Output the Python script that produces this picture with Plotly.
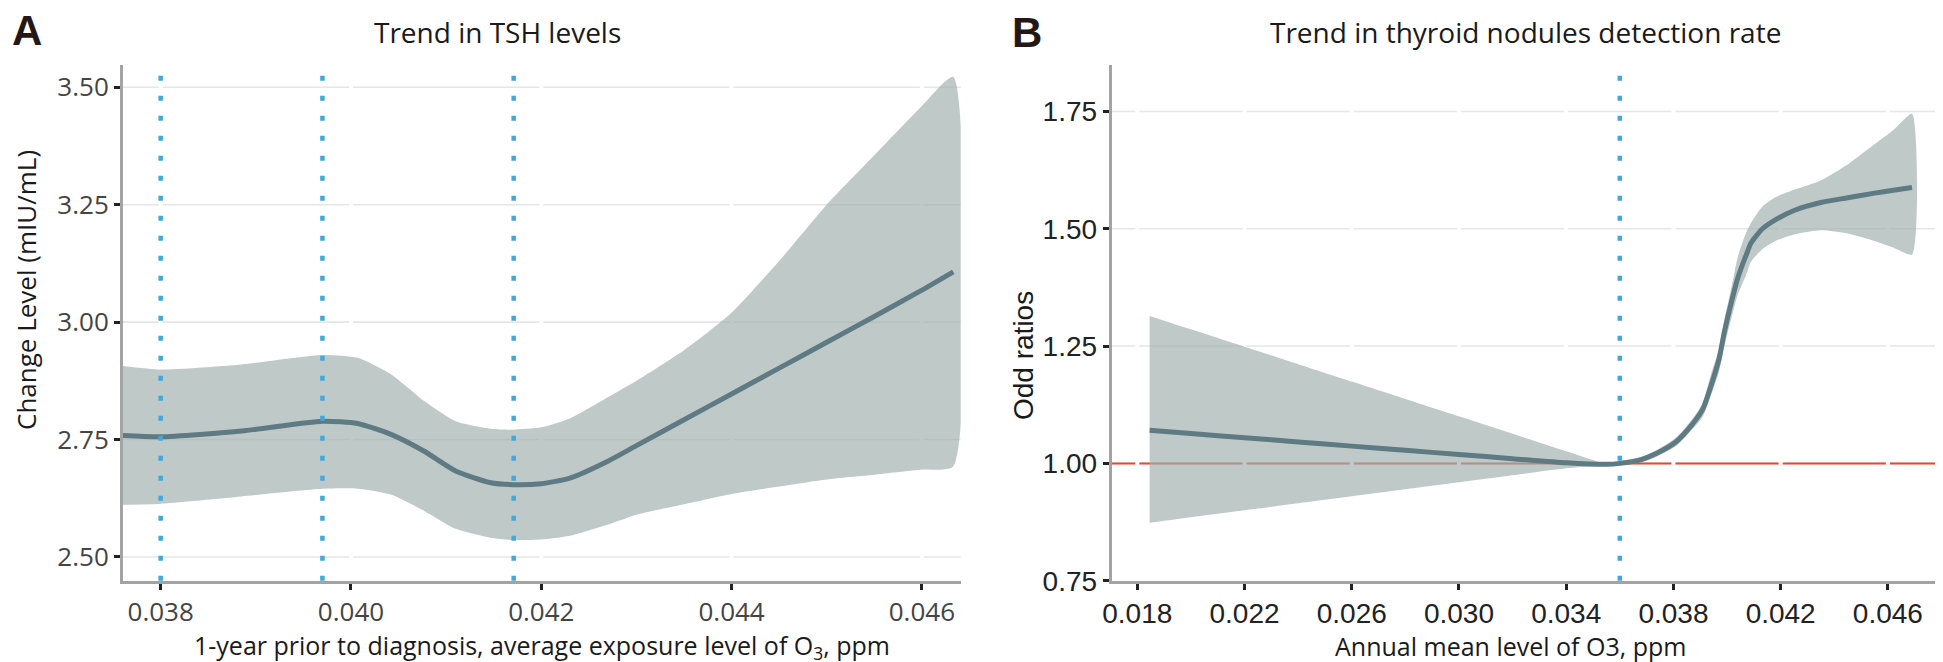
import plotly.graph_objects as go

W, H = 1943, 662

# ---------------- Panel A data: TSH trend ----------------
a_x = [0.0376, 0.0380, 0.03885, 0.0397, 0.04007, 0.04042, 0.04077, 0.0411, 0.04147, 0.0417,
       0.0420, 0.0423, 0.0427, 0.0430, 0.0435, 0.0440, 0.0445, 0.0450, 0.0455, 0.0460, 0.04633]
a_fit = [2.7585, 2.7558, 2.768, 2.789, 2.784, 2.761, 2.725, 2.683, 2.658, 2.654,
         2.656, 2.668, 2.704, 2.737, 2.792, 2.847, 2.902, 2.957, 3.012, 3.068, 3.107]
a_upper = [2.9065, 2.899, 2.910, 2.930, 2.924, 2.889, 2.832, 2.789, 2.773, 2.771,
           2.776, 2.795, 2.840, 2.875, 2.940, 3.020, 3.130, 3.250, 3.355, 3.460, 3.522]
a_lower = [2.611, 2.6135, 2.629, 2.645, 2.6455, 2.633, 2.598, 2.560, 2.541, 2.536,
           2.537, 2.545, 2.569, 2.590, 2.612, 2.634, 2.650, 2.665, 2.675, 2.686, 2.693]
a_vlines = [0.038, 0.0397, 0.04171]
a_xticks = [0.038, 0.040, 0.042, 0.044, 0.046]
a_yticks = [2.50, 2.75, 3.00, 3.25, 3.50]

# ---------------- Panel B data: nodules detection ----------------
b_x = [0.01846, 0.0200, 0.0220, 0.0240, 0.0260, 0.0280, 0.0300, 0.0320, 0.0340, 0.0355,
       0.0360, 0.0368, 0.0374, 0.0381, 0.0387, 0.0391, 0.0394, 0.0397, 0.0399, 0.0402,
       0.0404, 0.0407, 0.0409, 0.0413, 0.0418, 0.0425, 0.0435, 0.0445, 0.0455, 0.0462, 0.0469]
b_fit = [1.0704, 1.0635, 1.0546, 1.0457, 1.0368, 1.0279, 1.0190, 1.0101, 1.0012, 0.998,
         1.000, 1.008, 1.022, 1.046, 1.083, 1.116, 1.165, 1.222, 1.280, 1.352,
         1.395, 1.442, 1.470, 1.499, 1.519, 1.539, 1.556, 1.566, 1.576, 1.582, 1.588]
b_upper = [1.3143, 1.2857, 1.2486, 1.2115, 1.1744, 1.1373, 1.1002, 1.0631, 1.0260, 1.000,
           1.004, 1.014, 1.029, 1.055, 1.094, 1.130, 1.190, 1.245, 1.305, 1.385,
           1.440, 1.490, 1.513, 1.546, 1.567, 1.583, 1.603, 1.637, 1.680, 1.710, 1.745]
b_lower = [0.8736, 0.8851, 0.9000, 0.9149, 0.9298, 0.9447, 0.9596, 0.9745, 0.9895, 0.996,
           0.996, 1.002, 1.015, 1.037, 1.072, 1.100, 1.145, 1.195, 1.250, 1.318,
           1.360, 1.400, 1.430, 1.456, 1.474, 1.488, 1.497, 1.490, 1.474, 1.460, 1.445]
b_vline = 0.036
b_ref = 1.0
b_xticks = [0.018, 0.022, 0.026, 0.030, 0.034, 0.038, 0.042, 0.046]
b_yticks = [0.75, 1.00, 1.25, 1.50, 1.75]

# ---------------- styles ----------------
LINE_C = "#5E7A82"
BAND_C = "rgba(160,176,174,0.68)"
DOT_C = "#3FA9DC"
RED_C = "#E8472C"
AXIS_C = "#A3A3A3"
GRID_C = "#E6E6E6"

fig = go.Figure()

def add_panel(x, fit, up, lo, xa, ya):
    fig.add_trace(go.Scatter(x=x + x[::-1], y=up + lo[::-1], fill="toself",
                             fillcolor=BAND_C, line=dict(width=0, shape="spline", smoothing=0.6),
                             mode="lines", hoverinfo="skip", xaxis=xa, yaxis=ya))
    fig.add_trace(go.Scatter(x=x, y=fit, mode="lines",
                             line=dict(color=LINE_C, width=5, shape="spline", smoothing=0.6),
                             xaxis=xa, yaxis=ya))

add_panel(a_x, a_fit, a_upper, a_lower, "x", "y")
add_panel(b_x, b_fit, b_upper, b_lower, "x2", "y2")

shapes = []
# horizontal grid lines (drawn as shapes so gaps can be cut into them)
for v in a_yticks:
    shapes.append(dict(type="line", xref="x domain", yref="y", x0=0, x1=1, y0=v, y1=v,
                       line=dict(color=GRID_C, width=1.6), layer="below"))
for v in b_yticks[1:]:
    shapes.append(dict(type="line", xref="x2 domain", yref="y2", x0=0, x1=1, y0=v, y1=v,
                       line=dict(color=GRID_C, width=1.6), layer="below"))
# Panel B reference line
shapes.append(dict(type="line", xref="x2 domain", yref="y2", x0=0, x1=1, y0=b_ref, y1=b_ref,
                   line=dict(color=RED_C, width=2), layer="below"))
# white gaps at major x ticks
for v in a_xticks:
    shapes.append(dict(type="line", xref="x", yref="y domain", x0=v, x1=v, y0=0, y1=1,
                       line=dict(color="white", width=4), layer="below"))
for v in b_xticks:
    shapes.append(dict(type="line", xref="x2", yref="y2 domain", x0=v, x1=v, y0=0, y1=1,
                       line=dict(color="white", width=4), layer="below"))
# dotted blue vertical lines
for v in a_vlines:
    shapes.append(dict(type="line", xref="x", yref="y domain", x0=v, x1=v, y0=0, y1=1,
                       line=dict(color=DOT_C, width=4.5, dash="5px,15px"), layer="above"))
shapes.append(dict(type="line", xref="x2", yref="y2 domain", x0=b_vline, x1=b_vline, y0=0, y1=1,
                   line=dict(color=DOT_C, width=4.5, dash="5px,15px"), layer="above"))

ydom = [(H - 572.7) / H, (H - 56.7) / H]

axis_common = dict(showline=True, linecolor=AXIS_C, linewidth=3, ticks="outside",
                   ticklen=6, tickwidth=2.5, tickcolor="#222222", zeroline=False, mirror=False,
                   showgrid=False, automargin=False)

fig.update_layout(
    width=W, height=H, margin=dict(l=0, r=0, t=0, b=0, pad=0),
    paper_bgcolor="white", plot_bgcolor="white", showlegend=False,
    shapes=shapes,
    xaxis=dict(domain=[115 / W, 952.7 / W], range=[0.037604, 0.046408], tickvals=a_xticks,
               tickformat=".3f", anchor="y",
               tickfont=dict(family="Open Sans", size=26, color="#444444"),
               **axis_common),
    yaxis=dict(domain=ydom, range=[2.4495, 3.548], tickvals=a_yticks, tickformat=".2f",
               anchor="x",
               tickfont=dict(family="Open Sans", size=26, color="#444444"),
               **axis_common),
    xaxis2=dict(domain=[1103.7 / W, 1941 / W], range=[0.017045, 0.04828], tickvals=b_xticks,
                tickformat=".3f", anchor="y2",
                tickfont=dict(family="Liberation Sans", size=28, color="#222222"),
                **axis_common),
    yaxis2=dict(domain=ydom, range=[0.75, 1.8496], tickvals=b_yticks, tickformat=".2f",
                anchor="x2",
                tickfont=dict(family="Liberation Sans", size=28, color="#222222"),
                **axis_common),
)

def px(xp, yp):
    return xp / W, 1 - yp / H

anns = []
def ann(text, xp, yp, size, family, color="#1a1a1a", angle=0, bold=False, xanchor="center"):
    x, y = px(xp, yp)
    anns.append(dict(text=f"<b>{text}</b>" if bold else text, x=x, y=y, xref="paper", yref="paper",
                     showarrow=False, xanchor=xanchor, yanchor="middle", textangle=angle,
                     font=dict(family=family, size=size, color=color)))

ann("A", 2, 23, 42, "Liberation Sans", color="#231815", bold=True, xanchor="left")
ann("B", 1002, 24, 42, "Liberation Sans", color="#231815", bold=True, xanchor="left")
ann("Trend in TSH levels", 490, 24, 28, "Open Sans")
ann("Trend in thyroid nodules detection rate", 1517, 24, 28, "Open Sans")
ann("Change Level (mIU/mL)", 18, 282, 26, "Open Sans", angle=-90)
ann("Odd ratios", 1015, 347, 28, "Liberation Sans", angle=-90)
ann("1-year prior to diagnosis, average exposure level of O<sub>3</sub>, ppm", 534, 638, 25, "Open Sans")
ann("Annual mean level of O3, ppm", 1502, 638, 25, "Open Sans")
fig.update_layout(annotations=anns)

fig.write_html("out.html")
